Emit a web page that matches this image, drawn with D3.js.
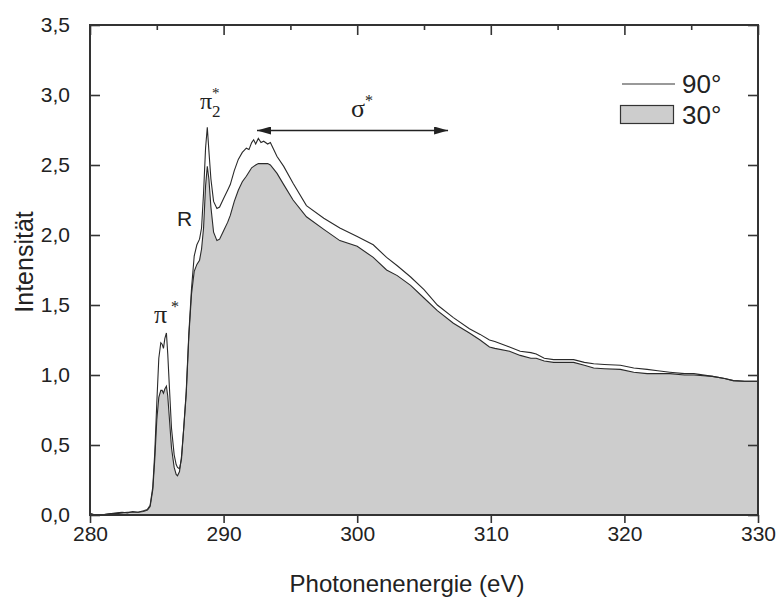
<!DOCTYPE html>
<html>
<head>
<meta charset="utf-8">
<script src="https://cdn.jsdelivr.net/npm/d3@7"></script>
<style>
  html, body { margin: 0; padding: 0; background: #fff; }
  svg { display: block; }
  text { font-family: "Liberation Sans", Arial, Helvetica, sans-serif; fill: #222; }
  .greek { font-family: "Liberation Serif", "Times New Roman", serif; }
</style>
</head>
<body>
<svg id="chart" width="778" height="597"></svg>
<script>
// NEXAFS spectrum: photon energy (eV) and intensity for two incidence angles
const energy = [
  280.0, 280.4, 280.8, 281.2, 281.6, 282.0, 282.4, 282.8, 283.2, 283.6,
  284.0, 284.3, 284.5, 284.7, 284.85, 285.0, 285.15, 285.3, 285.4, 285.5,
  285.6, 285.72, 285.82, 285.95, 286.1, 286.3, 286.45, 286.55, 286.7, 286.85,
  287.0, 287.2, 287.4, 287.6, 287.8, 288.0, 288.2, 288.35, 288.5, 288.65,
  288.78, 288.9, 289.05, 289.25, 289.5, 289.7, 290.0, 290.3, 290.5, 290.8,
  291.1, 291.4, 291.7, 291.9, 292.1, 292.25, 292.4, 292.6, 292.8, 293.0,
  293.3, 293.5, 293.75, 294.0, 294.5, 295.2, 296.2, 297.5, 298.7, 300.0,
  301.2, 302.2, 303.0, 304.0, 305.0, 306.0, 307.2, 308.4, 309.2, 309.9,
  310.3, 311.4, 312.2, 313.0, 313.4, 314.0, 314.7, 315.5, 316.2, 317.0,
  317.7, 318.5, 319.7, 320.7, 321.7, 322.5, 323.4, 324.5, 325.2, 326.6,
  327.5, 328.15, 329.0, 330.0
];

const intensity90 = [
  0.01, 0.00, 0.00, 0.005, 0.01, 0.015, 0.02, 0.015, 0.025, 0.02,
  0.03, 0.04, 0.07, 0.20, 0.45, 0.80, 1.12, 1.23, 1.22, 1.19,
  1.26, 1.30, 1.15, 0.90, 0.62, 0.43, 0.36, 0.34, 0.33, 0.40,
  0.60, 0.88, 1.30, 1.62, 1.85, 1.93, 1.97, 2.05, 2.30, 2.62,
  2.77, 2.60, 2.40, 2.24, 2.19, 2.20, 2.26, 2.32, 2.36, 2.46,
  2.54, 2.59, 2.62, 2.61, 2.66, 2.68, 2.65, 2.69, 2.66, 2.67,
  2.65, 2.66, 2.61, 2.56, 2.49, 2.37, 2.21, 2.12, 2.05, 1.99,
  1.93, 1.84, 1.78, 1.70, 1.61, 1.50, 1.41, 1.33, 1.29, 1.25,
  1.24, 1.20, 1.17, 1.16, 1.15, 1.12, 1.11, 1.11, 1.11, 1.09,
  1.08, 1.075, 1.07, 1.05, 1.04, 1.03, 1.02, 1.01, 1.01, 0.99,
  0.975, 0.96, 0.955, 0.955
];

const intensity30 = [
  0.01, 0.00, 0.00, 0.005, 0.01, 0.01, 0.015, 0.02, 0.02, 0.02,
  0.025, 0.035, 0.06, 0.18, 0.40, 0.68, 0.84, 0.89, 0.89, 0.87,
  0.90, 0.92, 0.85, 0.68, 0.48, 0.34, 0.29, 0.28, 0.31, 0.42,
  0.60, 0.86, 1.28, 1.58, 1.74, 1.79, 1.82, 1.90, 2.05, 2.35,
  2.49, 2.40, 2.20, 2.02, 1.96, 1.97, 2.03, 2.09, 2.14, 2.24,
  2.32, 2.38, 2.42, 2.45, 2.48, 2.49, 2.50, 2.51, 2.51, 2.51,
  2.51, 2.50, 2.47, 2.44, 2.36, 2.25, 2.13, 2.04, 1.96, 1.92,
  1.84, 1.75, 1.71, 1.64, 1.55, 1.46, 1.37, 1.30, 1.25, 1.20,
  1.19, 1.17, 1.14, 1.12, 1.12, 1.10, 1.09, 1.09, 1.09, 1.07,
  1.05, 1.045, 1.04, 1.02, 1.01, 1.01, 1.01, 1.00, 1.00, 0.99,
  0.975, 0.96, 0.955, 0.955
];

const xTicks = [280, 290, 300, 310, 320, 330];
const xMinorTicks = [285, 295, 305, 315, 325];
const yTicks = [0, 0.5, 1.0, 1.5, 2.0, 2.5, 3.0, 3.5];
const seriesLabels = ["90°", "30°"];

const svg = d3.select("#chart");
const plot = { left: 90, right: 758, top: 25, bottom: 515 };

const x = d3.scaleLinear().domain([280, 330]).range([plot.left, plot.right]);
const y = d3.scaleLinear().domain([0, 3.5]).range([plot.bottom, plot.top]);

const fmtComma = d => d3.format(".1f")(d).replace(".", ",");

const pts30 = energy.map((e, i) => [e, intensity30[i]]);
const pts90 = energy.map((e, i) => [e, intensity90[i]]);

// filled 30° spectrum
svg.append("path")
  .datum(pts30)
  .attr("d", d3.area().x(d => x(d[0])).y0(y(0)).y1(d => y(d[1])))
  .attr("fill", "#cdcdcd");
svg.append("path")
  .datum(pts30)
  .attr("d", d3.line().x(d => x(d[0])).y(d => y(d[1])))
  .attr("fill", "none").attr("stroke", "#2a2a2a").attr("stroke-width", 1.1);

// 90° spectrum as a line
svg.append("path")
  .datum(pts90)
  .attr("d", d3.line().x(d => x(d[0])).y(d => y(d[1])))
  .attr("fill", "none").attr("stroke", "#2a2a2a").attr("stroke-width", 1.1);

// axes
const axisColor = "#333";
function styleAxis(g) {
  g.select(".domain").remove();
  g.selectAll(".tick line").attr("stroke", axisColor).attr("stroke-width", 1.6);
  g.selectAll(".tick text").attr("fill", "#333").style("font-size", "21px")
    .style("font-family", "'Liberation Sans', Arial, sans-serif");
}

svg.append("g")
  .attr("transform", `translate(0,${plot.bottom})`)
  .call(d3.axisBottom(x).tickValues(xTicks).tickSize(8).tickPadding(3).tickFormat(d3.format("d")))
  .call(styleAxis);

svg.append("g")
  .attr("transform", `translate(0,${plot.top})`)
  .call(d3.axisTop(x).tickValues(xTicks).tickSize(-10).tickFormat(""))
  .call(styleAxis);
svg.append("g")
  .attr("transform", `translate(0,${plot.top})`)
  .call(d3.axisTop(x).tickValues(xMinorTicks).tickSize(-5).tickFormat(""))
  .call(styleAxis);

svg.append("g")
  .attr("transform", `translate(${plot.left},0)`)
  .call(d3.axisLeft(y).tickValues(yTicks).tickSize(-10).tickPadding(20).tickFormat(fmtComma))
  .call(styleAxis);

svg.append("g")
  .attr("transform", `translate(${plot.right},0)`)
  .call(d3.axisRight(y).tickValues(yTicks).tickSize(-10).tickFormat(""))
  .call(styleAxis);

// frame
svg.append("rect")
  .attr("x", plot.left).attr("y", plot.top)
  .attr("width", plot.right - plot.left).attr("height", plot.bottom - plot.top)
  .attr("fill", "none").attr("stroke", axisColor).attr("stroke-width", 2);

// axis titles
svg.append("text")
  .attr("x", 407).attr("y", 592)
  .attr("text-anchor", "middle")
  .style("font-size", "24px")
  .text("Photonenenergie (eV)");

svg.append("text")
  .attr("transform", "translate(33,262) rotate(-90)")
  .attr("text-anchor", "middle")
  .style("font-size", "25px")
  .text("Intensität");

// peak annotations
const pi1 = svg.append("text").attr("x", 154).attr("y", 323).attr("class", "greek").style("font-size", "26px");
pi1.append("tspan").text("π");
svg.append("text").attr("x", 171).attr("y", 312).attr("class", "greek").style("font-size", "16px").text("*");

svg.append("text").attr("x", 200).attr("y", 109).attr("class", "greek").style("font-size", "24px").text("π");
svg.append("text").attr("x", 212).attr("y", 117).attr("class", "greek").style("font-size", "17px").text("2");
svg.append("text").attr("x", 212).attr("y", 98).attr("class", "greek").style("font-size", "15px").text("*");

svg.append("text").attr("x", 177).attr("y", 226).style("font-size", "21px").text("R");

svg.append("text").attr("x", 351).attr("y", 117).attr("class", "greek").style("font-size", "26px").text("σ");
svg.append("text").attr("x", 365).attr("y", 106).attr("class", "greek").style("font-size", "16px").text("*");

// σ* range arrow
const defs = svg.append("defs");
defs.append("marker")
  .attr("id", "head").attr("viewBox", "0 0 14 8")
  .attr("refX", 14).attr("refY", 4)
  .attr("markerWidth", 14).attr("markerHeight", 8)
  .attr("markerUnits", "userSpaceOnUse")
  .attr("orient", "auto-start-reverse")
  .append("path").attr("d", "M0,0 L14,4 L0,8 Z").attr("fill", "#222");

svg.append("line")
  .attr("x1", x(292.5)).attr("x2", x(306.8))
  .attr("y1", 130.5).attr("y2", 130.5)
  .attr("stroke", "#222").attr("stroke-width", 1.5)
  .attr("marker-start", "url(#head)").attr("marker-end", "url(#head)");

// legend
svg.append("line")
  .attr("x1", 622).attr("x2", 675).attr("y1", 84).attr("y2", 84)
  .attr("stroke", "#777").attr("stroke-width", 1.4);
svg.append("text").attr("x", 682).attr("y", 93).style("font-size", "26px").text(seriesLabels[0]);
svg.append("rect")
  .attr("x", 620.5).attr("y", 105.5).attr("width", 53).attr("height", 18)
  .attr("fill", "#cdcdcd").attr("stroke", "#333").attr("stroke-width", 1.2);
svg.append("text").attr("x", 682).attr("y", 124).style("font-size", "26px").text(seriesLabels[1]);
</script>
</body>
</html>
